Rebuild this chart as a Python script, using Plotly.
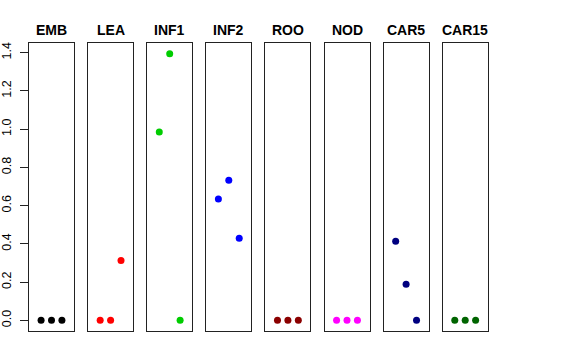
import plotly.graph_objects as go

tissues = ["EMB", "LEA", "INF1", "INF2", "ROO", "NOD", "CAR5", "CAR15"]
colors = ["#000000", "#FF0000", "#00CD00", "#0000FF", "#8B0000", "#FF00FF", "#000080", "#006400"]
positions = [1, 2, 3]
values = {
    "EMB": [0, 0, 0],
    "LEA": [0, 0, 0.313],
    "INF1": [0.985, 1.395, 0],
    "INF2": [0.635, 0.733, 0.43],
    "ROO": [0, 0, 0],
    "NOD": [0, 0, 0],
    "CAR5": [0.414, 0.189, 0],
    "CAR15": [0, 0, 0],
}
y_ticks = [0.0, 0.2, 0.4, 0.6, 0.8, 1.0, 1.2, 1.4]

W, H = 576, 360
left0, pitch, pw = 29.0, 59.1, 45.0
top, bottom = 43.0, 331.0
title_y = 30.0

fig = go.Figure()
font_family = "Liberation Sans, Arial, Helvetica, sans-serif"
ymin, ymax = -0.0558, 1.4508

for i, t in enumerate(tissues):
    n = i + 1
    xa = "x" if n == 1 else f"x{n}"
    ya = "y" if n == 1 else f"y{n}"
    fig.add_trace(go.Scatter(
        x=positions, y=values[t], mode="markers",
        marker=dict(color=colors[i], size=7),
        xaxis=xa, yaxis=ya, showlegend=False, hoverinfo="skip"))
    x0 = left0 + i * pitch
    dom = [x0 / W, (x0 + pw) / W]
    xkey = "xaxis" if n == 1 else f"xaxis{n}"
    ykey = "yaxis" if n == 1 else f"yaxis{n}"
    fig.layout[xkey] = dict(domain=dom, range=[-0.16, 4.16], showgrid=False,
                            zeroline=False, showticklabels=False, ticks="",
                            showline=True, mirror=True, linecolor="#222222",
                            linewidth=1, anchor=ya, fixedrange=True,
                            automargin=False)
    ydict = dict(domain=[(H - bottom) / H, (H - top) / H], range=[ymin, ymax],
                 showgrid=False, zeroline=False, showline=True, mirror=True,
                 linecolor="#222222", linewidth=1, anchor=xa, fixedrange=True,
                 automargin=False)
    if n == 1:
        ydict.update(tickmode="array", tickvals=y_ticks,
                     ticktext=[f"{v:.1f}" for v in y_ticks],
                     ticks="outside", ticklen=8, tickcolor="#222222",
                     ticklabelstandoff=4,
                     tickangle=-90, tickfont=dict(size=12.5, color="#000000",
                                                  family=font_family))
    else:
        ydict.update(showticklabels=False, ticks="")
    fig.layout[ykey] = ydict
    fig.add_annotation(text=f"<b>{t}</b>", x=(x0 + pw / 2) / W, y=(H - title_y) / H,
                       xref="paper", yref="paper", showarrow=False,
                       xanchor="center", yanchor="middle",
                       font=dict(size=14, color="#000000", family=font_family))

fig.update_layout(width=W, height=H, margin=dict(l=0, r=0, t=0, b=0),
                  paper_bgcolor="white", plot_bgcolor="white",
                  font=dict(family=font_family))
fig.write_html("out.html", config={"displayModeBar": False},
               post_script="document.body.style.margin='0';document.body.style.overflow='hidden';")
